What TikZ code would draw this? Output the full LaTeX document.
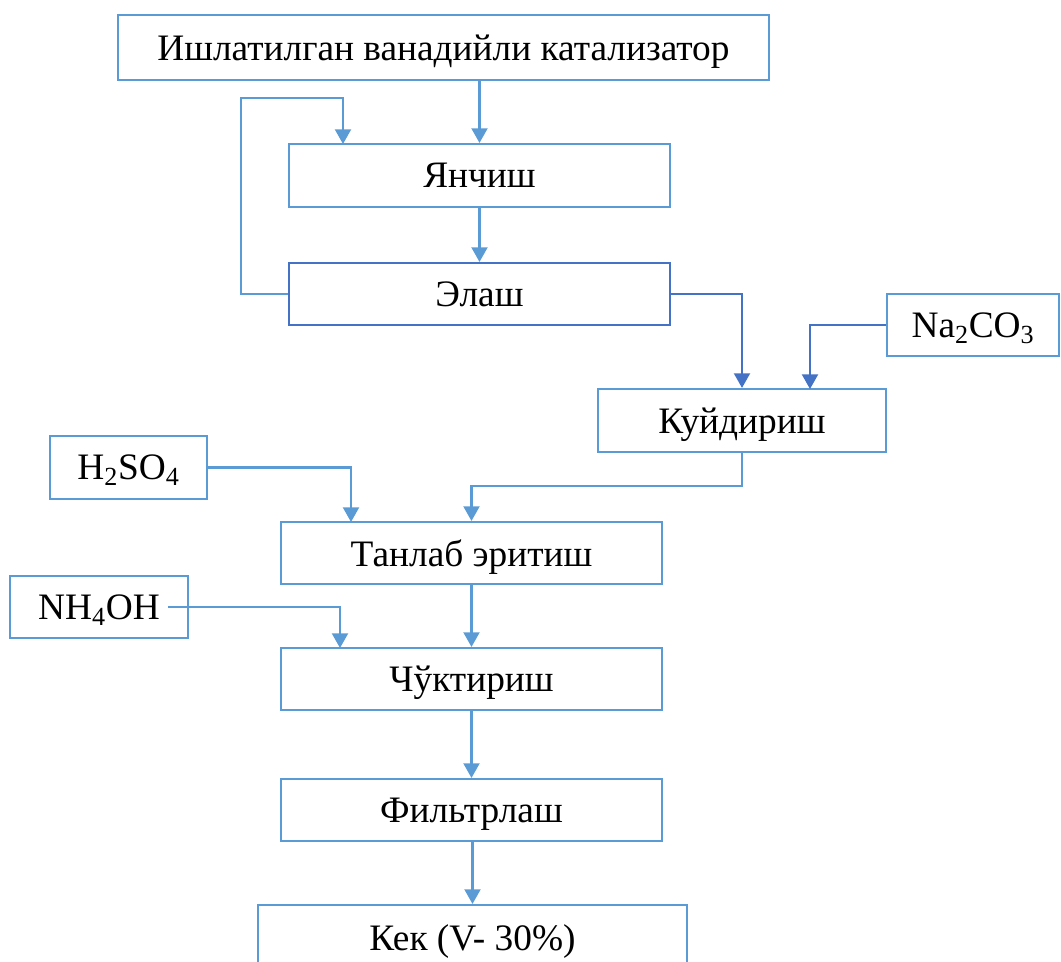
\documentclass[tikz,border=0pt]{standalone}
\usepackage{fontspec}
\setmainfont{Liberation Serif}
\usepackage{tikz}
\usetikzlibrary{arrows.meta}

\definecolor{lblue}{RGB}{91,155,213}
\definecolor{dblue}{RGB}{68,114,196}

\tikzset{
  stage/.style={draw=lblue,line width=1.6pt,inner sep=0pt,text depth=0pt,font=\fontsize{28}{32}\selectfont},
  arr/.style={draw=lblue,line width=1.6pt,-{Triangle[width=12pt,length=11pt]}},
}

\begin{document}
\begin{tikzpicture}[x=0.75pt,y=-0.75pt]
              \useasboundingbox (0,0) rectangle (1061,962);
              \clip (0,0) rectangle (1061,962);
              \node[stage,minimum width=488pt,minimum height=48.75pt](top)at(443.5,47.5){Ишлатилган ванадийли катализатор};
              \node[stage,minimum width=285.75pt,minimum height=47.25pt](yan)at(479.5,175.5){Янчиш};
              \node[stage,draw=dblue,minimum width=285.75pt,minimum height=46.5pt](elash)at(479.5,294){Элаш};
              \node[stage,minimum width=129pt,minimum height=46.5pt](na)at(973,325){Na\textsubscript{2}CO\textsubscript{3}};
              \node[stage,minimum width=216pt,minimum height=47.25pt](kuy)at(742,420.5){Куйдириш};
              \node[stage,minimum width=117.75pt,minimum height=47.25pt](h2)at(128.5,467.5){H\textsubscript{2}SO\textsubscript{4}};
              \node[stage,minimum width=285.75pt,minimum height=46.5pt](tan)at(471.5,553){Танлаб эритиш};
              \node[stage,minimum width=133.5pt,minimum height=46.5pt](nh)at(99,607){NH\textsubscript{4}OH};
              \node[stage,minimum width=285.75pt,minimum height=46.5pt](chu)at(471.5,679){Чўктириш};
              \node[stage,minimum width=285.75pt,minimum height=46.5pt](fil)at(471.5,810){Фильтрлаш};
              \node[stage,minimum width=321.75pt,minimum height=63pt](kek)at(472.5,947){};
              \node[font=\fontsize{28}{32}\selectfont,text depth=0pt](kektext)at(472.5,938){Кек (V- 30\%)};
              % bends
              \coordinate (fb)at(241,98);
              \coordinate (yanin)at(343,144);
              \coordinate (kuyin)at(810,389);
              \coordinate (kuyout)at(742,486);
              \coordinate (tanin)at(351,522);
              \coordinate (chuin)at(340,648);
              \draw[arr] (top.south -| yan.north) -- (yan.north);
              \draw[arr] (yan.south) -- (elash.north);
              \draw[arr] (elash.west) -| (fb) -| (yanin);
              \draw[arr,draw=dblue,-{Triangle[width=12pt,length=11pt,fill=dblue]}] (elash.east) -| (kuy.north);
              \draw[arr,draw=dblue,-{Triangle[width=12pt,length=11pt,fill=dblue]}] (na.west) -| (kuyin);
              \draw[arr] (kuy.south) |- (kuyout) -| (tan.north);
              \draw[arr] (h2.east) -| (tanin);
              \draw[arr] ([xshift=-15.75pt]nh.east) -| (chuin);
              \draw[arr] (tan.south) -- (chu.north);
              \draw[arr] (chu.south) -- (fil.north);
              \draw[arr] (fil.south -| kek.north) -- (kek.north);
            \end{tikzpicture}
\end{document}
